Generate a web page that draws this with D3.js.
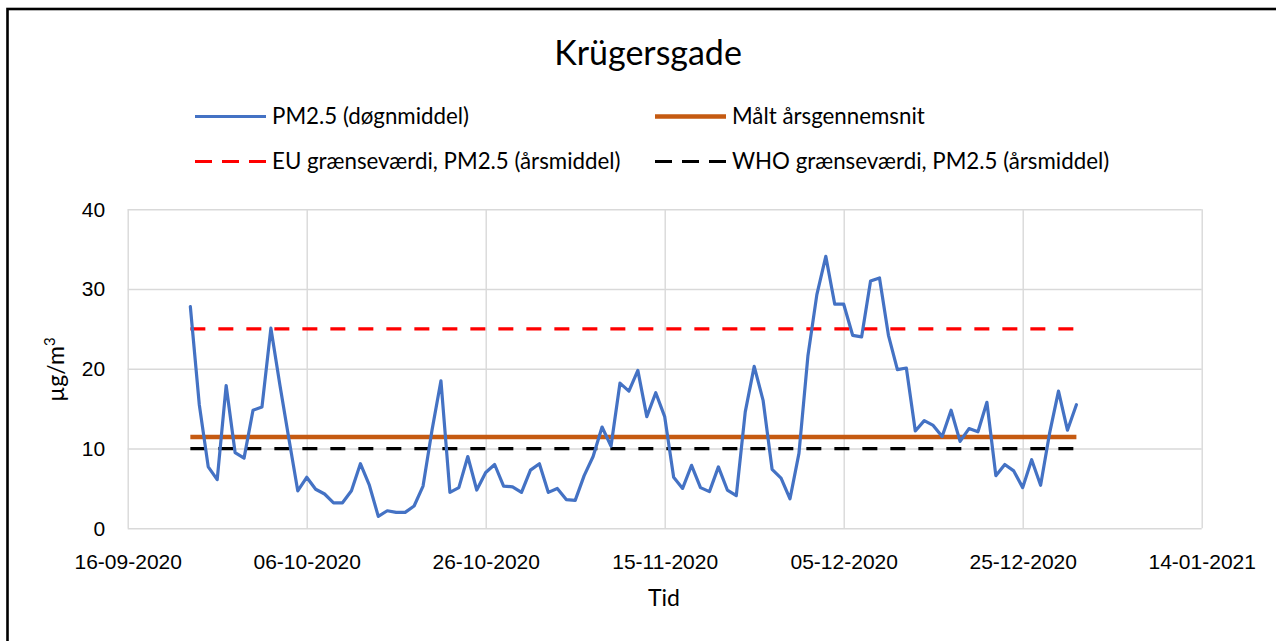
<!DOCTYPE html>
<html>
<head>
<meta charset="utf-8">
<script src="https://cdn.jsdelivr.net/npm/d3@7"></script>
<style>
  body { margin: 0; background: #fff; }
  svg { font-family: Lato, "Open Sans", sans-serif; }
  .grid line { stroke: #d9d9d9; stroke-width: 1.4; }
  .grid text { fill: #000; }
</style>
</head>
<body>
<script>
// chart data
const chartTitle = "Krügersgade";
const firstDay = "2020-09-23";
const pm25 = [
  27.8, 15.5, 7.7, 6.1, 17.9, 9.5, 8.8, 14.8, 15.2, 25.1,
  18.0, 11.3, 4.7, 6.4, 4.9, 4.3, 3.2, 3.2, 4.7, 8.1,
  5.4, 1.5, 2.2, 2.0, 2.0, 2.8, 5.3, 12.3, 18.5, 4.5,
  5.1, 9.0, 4.8, 7.0, 8.0, 5.3, 5.2, 4.5, 7.3, 8.1,
  4.5, 5.0, 3.6, 3.5, 6.6, 9.0, 12.7, 10.3, 18.2, 17.2,
  19.8, 14.0, 17.0, 14.0, 6.4, 5.0, 7.9, 5.1, 4.6, 7.7,
  4.8, 4.1, 14.6, 20.3, 16.0, 7.4, 6.3, 3.7, 9.4, 21.6,
  29.3, 34.1, 28.1, 28.1, 24.2, 24.0, 31.0, 31.4, 24.2, 19.9,
  20.1, 12.2, 13.5, 12.9, 11.5, 14.8, 10.9, 12.5, 12.1, 15.8,
  6.6, 8.0, 7.2, 5.1, 8.6, 5.4, 11.9, 17.2, 12.3, 15.5
];
const measuredMean = 11.45;
const euLimit = 25;
const whoLimit = 10;
const xTickDates = ["2020-09-16", "2020-10-06", "2020-10-26", "2020-11-15", "2020-12-05", "2020-12-25", "2021-01-14"];
const yTickValues = [0, 10, 20, 30, 40];
const seriesNames = [
  "PM2.5 (døgnmiddel)",
  "Målt årsgennemsnit",
  "EU grænseværdi, PM2.5 (årsmiddel)",
  "WHO grænseværdi, PM2.5 (årsmiddel)"
];

const W = 1276, H = 641;
const plot = { left: 127.7, right: 1201.7, top: 209.3, bottom: 528.3 };
const parse = d3.utcParse("%Y-%m-%d");
const start = parse(firstDay);
const daily = pm25.map((v, i) => ({ date: d3.utcDay.offset(start, i), value: v }));
const lastDate = daily[daily.length - 1].date;

const svg = d3.select("body").append("svg").attr("width", W).attr("height", H);

// outer frame (runs past the right and bottom of the picture)
svg.append("rect")
  .attr("x", 7.5).attr("y", 9).attr("width", W).attr("height", H)
  .attr("fill", "none").attr("stroke", "#000").attr("stroke-width", 2.6);

const x = d3.scaleUtc()
  .domain([parse(xTickDates[0]), parse(xTickDates[xTickDates.length - 1])])
  .range([plot.left, plot.right]);
const y = d3.scaleLinear().domain([0, 40]).range([plot.bottom, plot.top]);

// axes double as gridlines
const xAxis = svg.append("g")
  .attr("class", "grid")
  .attr("transform", `translate(0,${plot.bottom})`)
  .call(d3.axisBottom(x)
    .tickValues(xTickDates.map(parse))
    .tickFormat(d3.utcFormat("%d-%m-%Y"))
    .tickSize(-(plot.bottom - plot.top))
    .tickPadding(26));
xAxis.select(".domain").remove();
xAxis.selectAll("text").attr("font-size", 21).attr("font-family", null);

const yAxis = svg.append("g")
  .attr("class", "grid")
  .attr("transform", `translate(${plot.left},0)`)
  .call(d3.axisLeft(y)
    .tickValues(yTickValues)
    .tickSize(-(plot.right - plot.left))
    .tickPadding(22.5));
yAxis.select(".domain").remove();
yAxis.selectAll("text").attr("font-size", 21).attr("font-family", null);

const line = d3.line().x(d => x(d.date)).y(d => y(d.value));
const flat = v => [{ date: start, value: v }, { date: lastDate, value: v }];

svg.append("path").datum(flat(whoLimit)).attr("d", line)
  .attr("fill", "none").attr("stroke", "#000").attr("stroke-width", 3.2)
  .attr("stroke-dasharray", "15,13");
svg.append("path").datum(flat(euLimit)).attr("d", line)
  .attr("fill", "none").attr("stroke", "#ff0000").attr("stroke-width", 3.2)
  .attr("stroke-dasharray", "15,13");
svg.append("path").datum(flat(measuredMean)).attr("d", line)
  .attr("fill", "none").attr("stroke", "#c55a11").attr("stroke-width", 4.5);
svg.append("path").datum(daily).attr("d", line)
  .attr("fill", "none").attr("stroke", "#4472c4").attr("stroke-width", 3.2)
  .attr("stroke-linejoin", "round").attr("stroke-linecap", "round");

// title and axis titles
svg.append("text").attr("x", 648).attr("y", 65).attr("text-anchor", "middle")
  .attr("font-size", 34).text(chartTitle);
svg.append("text").attr("x", 664).attr("y", 606).attr("text-anchor", "middle")
  .attr("font-size", 23).text("Tid");
const yt = svg.append("text")
  .attr("transform", "translate(64,369.5) rotate(-90)")
  .attr("text-anchor", "middle").attr("font-size", 23);
yt.append("tspan").text("µg/m");
yt.append("tspan").attr("font-size", 15).attr("dy", -9).text("3");

// legend, two by two
const legendItems = [
  { name: seriesNames[0], color: "#4472c4", dash: null, width: 3.2 },
  { name: seriesNames[1], color: "#c55a11", dash: null, width: 4.5 },
  { name: seriesNames[2], color: "#ff0000", dash: "17,10", width: 3.2 },
  { name: seriesNames[3], color: "#000", dash: "17,10", width: 3.2 }
];
const legend = svg.append("g").selectAll("g")
  .data(legendItems)
  .join("g")
  .attr("transform", (d, i) => `translate(${i % 2 ? 655 : 195},${i < 2 ? 116.5 : 161.5})`);
legend.append("line")
  .attr("x1", 0).attr("x2", 71)
  .attr("stroke", d => d.color).attr("stroke-width", d => d.width)
  .attr("stroke-dasharray", d => d.dash);
legend.append("text")
  .attr("x", 77).attr("dy", "0.35em").attr("font-size", 22.3)
  .text(d => d.name);
</script>
</body>
</html>
